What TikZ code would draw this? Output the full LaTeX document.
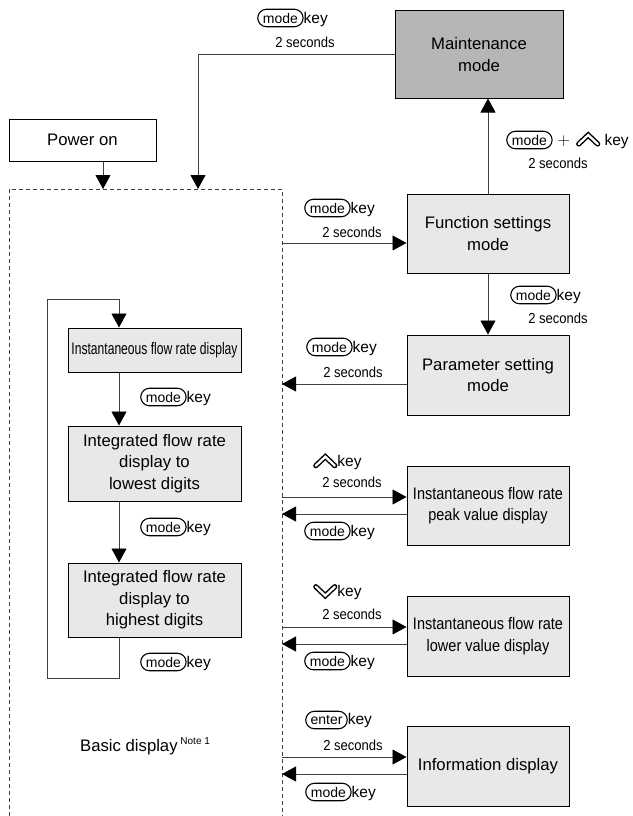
\documentclass[tikz,border=0pt]{standalone}
\usepackage{fontspec}
\setmainfont{Liberation Sans}
\usepackage{graphicx}
\usetikzlibrary{arrows.meta,shapes.misc}

\definecolor{boxfill}{HTML}{E8E8E8}
\definecolor{maintfill}{HTML}{B6B6B6}
\definecolor{linegray}{HTML}{404040}

\newcommand{\kbtn}[1]{\tikz[x=1pt,y=1pt,baseline=(kb.base)]\node[draw=black, line width=1.1pt, rounded rectangle, inner xsep=3.5pt, inner ysep=1.5pt, minimum height=17.5pt, font=\fontsize{14}{15}\selectfont](kb){#1};}
\newcommand{\chup}{\tikz[x=1pt,y=1pt,baseline=-1pt]{\draw[line width=5.2pt,line cap=round,line join=miter] (0,0)--(9.5,9)--(19,0);\draw[white,line width=2.3pt,line cap=round,line join=miter] (0,0)--(9.5,9)--(19,0);}}
\newcommand{\chdn}{\tikz[x=1pt,y=1pt,baseline=-1pt]{\draw[line width=5.2pt,line cap=round,line join=miter] (0,9)--(9.5,0)--(19,9);\draw[white,line width=2.3pt,line cap=round,line join=miter] (0,9)--(9.5,0)--(19,9);}}
\newcommand{\twosec}{\scalebox{0.9}[1]{2 seconds}}
\newcommand{\cond}[1]{\scalebox{0.869}[1]{#1}}

\begin{document}
\begin{tikzpicture}[x=1pt,y=-1pt,
  box/.style={draw=black, line width=1pt, fill=boxfill, align=center, inner sep=0pt, font=\fontsize{16.7}{21.5}\selectfont},
  arr/.style={draw=linegray, line width=0.9pt, -{Triangle[length=14pt,width=15pt,color=black]}},
  dashbox/.style={draw=black!75, line width=0.8pt, dash pattern=on 4pt off 3pt},
  lbl/.style={inner sep=0pt, anchor=west, font=\fontsize{15.5}{17}\selectfont},
  sec/.style={inner sep=0pt, font=\fontsize{14.5}{16}\selectfont},
]
\useasboundingbox (0,0) rectangle (632,816);

% boxes
\node[box, fill=maintfill, minimum width=168pt, minimum height=87pt] (maint) at (479,54.5) {Maintenance\\mode};
\node[box, fill=white, minimum width=147pt, minimum height=42pt] (power) at (82.5,140) {Power on};
\node[box, minimum width=162pt, minimum height=79pt] (func) at (488,233.5) {Function settings\\mode};
\node[box, minimum width=162pt, minimum height=80pt] (param) at (488,375) {Parameter setting\\mode};
\node[box, minimum width=162pt, minimum height=79pt] (peak) at (488,505.5) {\cond{Instantaneous flow rate}\\\cond{peak value display}};
\node[box, minimum width=162pt, minimum height=80pt] (lower) at (488,636) {\cond{Instantaneous flow rate}\\\cond{lower value display}};
\node[box, minimum width=162pt, minimum height=80pt] (info) at (488,766) {Information display};
\node[box, minimum width=173pt, minimum height=44pt] (inst) at (154.5,350) {\scalebox{0.724}[1]{Instantaneous flow rate display}};
\node[box, minimum width=173pt, minimum height=75pt] (low) at (154.5,463.5) {Integrated flow rate\\display to\\lowest digits};
\node[box, minimum width=173pt, minimum height=74pt] (high) at (154.5,600) {Integrated flow rate\\display to\\highest digits};

% dashed basic display region
\coordinate (dtl) at (9,189);
\coordinate (dtr) at (282,189);
\coordinate (dbl) at (9,816);
\coordinate (dbr) at (282,816);
\draw[dashbox] (dbl) -- (dtl) -- (dtr) -- (dbr);

% entry arrows
\coordinate (pin) at (103,189);
\coordinate (min) at (198,189);
\draw[arr] (power.south -| pin) -- (pin);
\draw[arr] (maint.west) -| (min);

% right side
\coordinate (f1) at (282,243);
\coordinate (p1) at (282,384);
\coordinate (k1) at (282,497);
\coordinate (k2) at (282,514);
\coordinate (v1) at (282,627);
\coordinate (v2) at (282,644);
\coordinate (e1) at (282,757);
\coordinate (e2) at (282,774);
\draw[arr] (f1) -- (f1 -| func.west);
\draw[arr] (func.south) -- (param.north);
\draw[arr] (func.north) -- (func.north |- maint.south);
\draw[arr] (p1 -| param.west) -- (p1);
\draw[arr] (k1) -- (k1 -| peak.west);
\draw[arr] (k2 -| peak.west) -- (k2);
\draw[arr] (v1) -- (v1 -| lower.west);
\draw[arr] (v2 -| lower.west) -- (v2);
\draw[arr] (e1) -- (e1 -| info.west);
\draw[arr] (e2 -| info.west) -- (e2);

% inner loop
\coordinate (lx) at (119,0);
\coordinate (lb) at (47,678);
\coordinate (lt) at (47,299);
\draw[arr] (inst.south -| lx) -- (low.north -| lx);
\draw[arr] (low.south -| lx) -- (high.north -| lx);
\draw[arr] (high.south -| lx) -- (lx |- lb) -- (lb) -- (lt) -- (lx |- lt) -- (inst.north -| lx);

% labels
\node[lbl] (lm1) at (257,18) {\kbtn{mode}key};
\node[sec] (lm1s) at (305,42) {\twosec};
\node[lbl] (lmp) at (506,140) {\kbtn{mode}\hspace{5pt}{\fontsize{19}{19}\selectfont$+$}\hspace{6pt}\chup\ key};
\node[sec] (lmps) at (558,163) {\twosec};
\node[lbl] (lf) at (304,208) {\kbtn{mode}key};
\node[sec] (lfs) at (352,232) {\twosec};
\node[lbl] (lfp) at (510,295) {\kbtn{mode}key};
\node[sec] (lfps) at (558,318) {\twosec};
\node[lbl] (lp) at (306,347) {\kbtn{mode}key};
\node[sec] (lps) at (353,372) {\twosec};
\node[lbl] (li1) at (140,397) {\kbtn{mode}key};
\node[lbl] (li2) at (140,527) {\kbtn{mode}key};
\node[lbl] (li3) at (140,662) {\kbtn{mode}key};
\node[lbl] (lk1) at (313,462) {\chup key};
\node[sec] (lk1s) at (352,482) {\twosec};
\node[lbl] (lk2) at (304,531) {\kbtn{mode}key};
\node[lbl] (lv1) at (313,592) {\chdn key};
\node[sec] (lv1s) at (352,614) {\twosec};
\node[lbl] (lv2) at (304,661) {\kbtn{mode}key};
\node[lbl] (le1) at (305,720) {\kbtn{enter}key};
\node[sec] (le1s) at (353,745) {\twosec};
\node[lbl] (le2) at (305,792) {\kbtn{mode}key};

\node[inner sep=0pt, anchor=base west, font=\fontsize{16.7}{18}\selectfont] (basic) at (80,751) {Basic display\,\raisebox{7pt}{\fontsize{10}{11}\selectfont Note 1}};
\end{tikzpicture}
\end{document}
